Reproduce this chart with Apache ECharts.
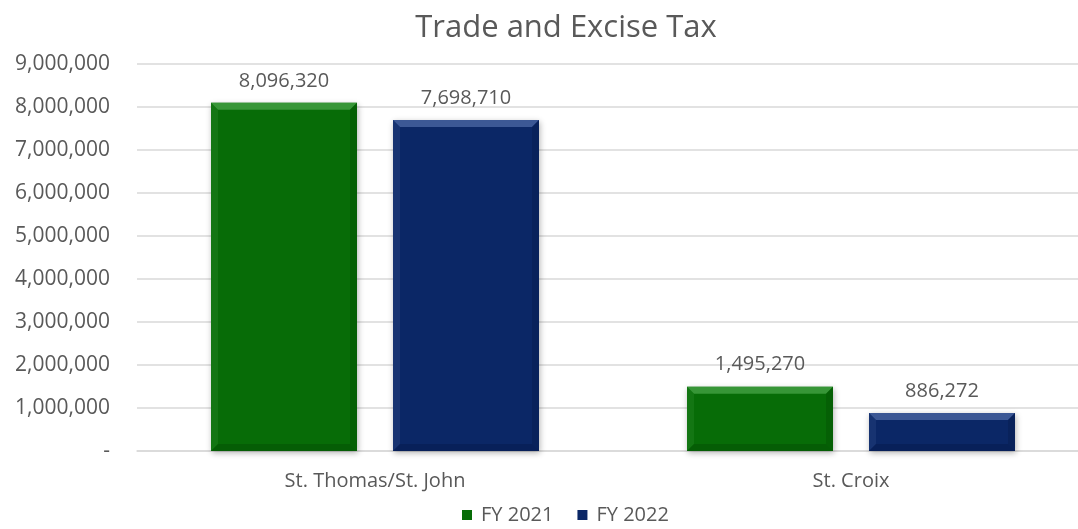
<!DOCTYPE html>
<html>
<head>
<meta charset="utf-8">
<script src="https://cdn.jsdelivr.net/npm/echarts@6/dist/echarts.min.js"></script>
<style>
  html, body { margin: 0; padding: 0; background: #fff; }
  #chart { width: 1078px; height: 529px; }
</style>
</head>
<body>
<div id="chart"></div>
<script>
// Trade and Excise Tax collections by district
const categories = ['St. Thomas/St. John', 'St. Croix'];
const seriesNames = ['FY 2021', 'FY 2022'];
const fy2021 = [8096320, 1495270];
const fy2022 = [7698710, 886272];
const yTicks = { min: 0, max: 9000000, interval: 1000000 };

const FONT = '"Open Sans", "Noto Sans", sans-serif';
const TEXT = '#595959';

// shades for each series: main face, top bevel, left bevel, right/bottom bevel
const palettes = [
  { main: '#076c07', top: '#3f9d3f', left: '#2a8a2a', dark: '#045204' },
  { main: '#0b2766', top: '#45619e', left: '#2d4a88', dark: '#071c4e' }
];

const fmt = v => v.toLocaleString('en-US');

function makeRender(idx) {
  const p = palettes[idx];
  return function (params, api) {
    const cat = api.value(0);
    const val = api.value(1);
    const base = api.coord([cat, 0]);
    const top = api.coord([cat, val]);
    const band = api.size([1, 0])[0];
    const w = band * 146 / 476;
    const gap = band * 36 / 476;
    const cx = base[0] + (idx === 0 ? -1 : 1) * (w + gap) / 2;
    const x0 = cx - w / 2, x1 = cx + w / 2;
    const y0 = top[1], y1 = base[1];
    const b = Math.min(7, (y1 - y0) / 2);
    return {
      type: 'group',
      children: [
        {
          type: 'rect',
          shape: { x: x0, y: y0, width: w, height: y1 - y0 },
          style: {
            fill: p.main,
            shadowBlur: 6, shadowOffsetX: 1, shadowOffsetY: 2,
            shadowColor: 'rgba(0,0,0,0.3)'
          }
        },
        {
          type: 'polygon',
          shape: { points: [[x0, y0], [x1, y0], [x1 - b, y0 + b], [x0 + b, y0 + b]] },
          style: { fill: p.top, opacity: 0.85 }
        },
        {
          type: 'polygon',
          shape: { points: [[x0, y0], [x0 + b, y0 + b], [x0 + b, y1 - b], [x0, y1]] },
          style: { fill: p.left, opacity: 0.35 }
        },
        {
          type: 'polygon',
          shape: { points: [[x1, y0], [x1, y1], [x1 - b, y1 - b], [x1 - b, y0 + b]] },
          style: { fill: p.dark, opacity: 0.45 }
        },
        {
          type: 'polygon',
          shape: { points: [[x0, y1], [x1, y1], [x1 - b, y1 - b], [x0 + b, y1 - b]] },
          style: { fill: p.dark, opacity: 0.55 }
        },
        {
          type: 'text',
          style: {
            x: cx, y: y0 - 12,
            text: fmt(val),
            align: 'center', verticalAlign: 'bottom',
            fill: TEXT, font: '20px ' + FONT
          }
        }
      ]
    };
  };
}

const seriesData = [fy2021, fy2022];

const chart = echarts.init(document.getElementById('chart'), null, { renderer: 'canvas' });
chart.setOption({
  animation: false,
  backgroundColor: '#ffffff',
  title: {
    text: 'Trade and Excise Tax',
    left: 561, top: 8, textAlign: 'center',
    textStyle: { color: TEXT, fontFamily: FONT, fontSize: 31, fontWeight: 'normal' }
  },
  legend: {
    data: seriesNames,
    left: 457, top: 500,
    icon: 'rect', itemWidth: 10, itemHeight: 10, itemGap: 24,
    textStyle: { color: TEXT, fontFamily: FONT, fontSize: 20, padding: [0, 0, 0, 4] }
  },
  grid: {
    left: 137, right: -11, top: 64, bottom: 78,
    outerBoundsMode: 'none'
  },
  xAxis: {
    type: 'category',
    data: categories,
    axisLine: { lineStyle: { color: '#d9d9d9', width: 1.5 } },
    axisTick: { show: false },
    axisLabel: { color: TEXT, fontFamily: FONT, fontSize: 20, margin: 20 }
  },
  yAxis: {
    type: 'value',
    min: yTicks.min, max: yTicks.max, interval: yTicks.interval,
    axisLine: { show: false },
    axisTick: { show: false },
    splitLine: { lineStyle: { color: '#d9d9d9', width: 1.5 } },
    axisLabel: {
      color: TEXT, fontFamily: FONT, fontSize: 21, margin: 27,
      formatter: v => (v === 0 ? '-' : fmt(v))
    }
  },
  series: seriesNames.map((name, i) => ({
    name: name,
    type: 'custom',
    renderItem: makeRender(i),
    itemStyle: { color: palettes[i].main },
    encode: { x: 0, y: 1 },
    data: seriesData[i].map((v, c) => [c, v]),
    z: 3
  }))
});
</script>
</body>
</html>
